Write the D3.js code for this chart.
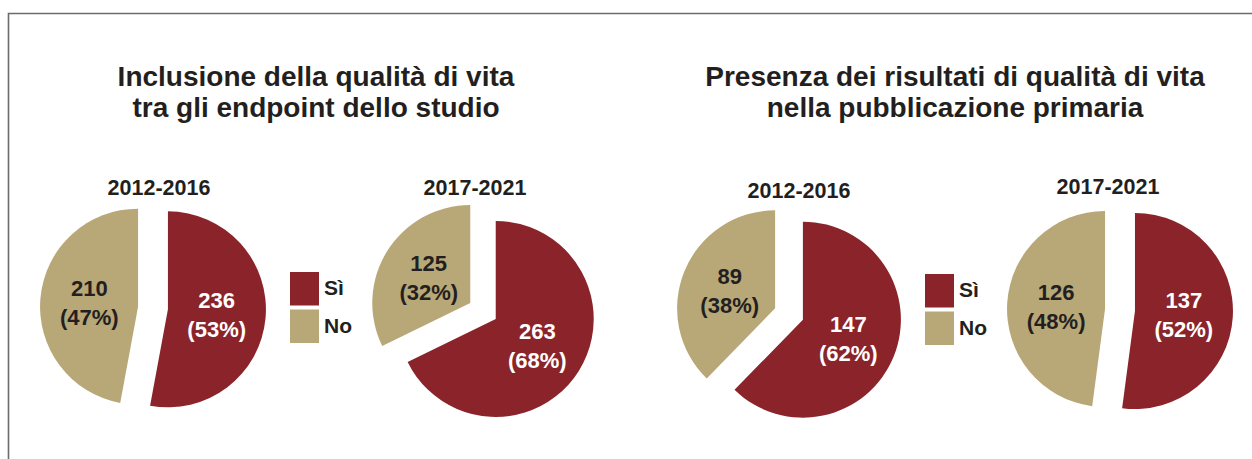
<!DOCTYPE html>
<html>
<head>
<meta charset="utf-8">
<script src="https://cdn.jsdelivr.net/npm/d3@7"></script>
<style>
  html, body { margin: 0; padding: 0; background: #fff; }
  svg { display: block; font-family: "Liberation Sans", Arial, Helvetica, sans-serif; }
</style>
</head>
<body>
<svg id="chart" width="1252" height="459"></svg>
<script>
// ---- data ----
const panelTitles = [
  ["Inclusione della qualità di vita", "tra gli endpoint dello studio"],
  ["Presenza dei risultati di qualità di vita", "nella pubblicazione primaria"]
];
const periods = ["2012-2016", "2017-2021", "2012-2016", "2017-2021"];
const categories = ["Sì", "No"];
const siValues = [236, 263, 147, 137];
const noValues = [210, 125, 89, 126];

// ---- styles / layout ----
const colors = { "Sì": "#8a242a", "No": "#b8a777" };
const labelColors = { "Sì": "#ffffff", "No": "#231f20" };
const W = 1252, H = 459;
const radius = 98, explode = 15;
const pieCenters = [[153, 308], [483, 311], [789, 314], [1120, 310]];
const periodPos = [[159, 195], [475, 195], [799, 198], [1108, 194]];
const titlePos = [[316, 86], [955, 86]];
const legendPos = [[290, 272], [925, 274]];

const svg = d3.select("#chart");

// frame
svg.append("path")
  .attr("d", `M8.5,${H} V13.5 H${W}`)
  .attr("fill", "none")
  .attr("stroke", "#6b6b6b")
  .attr("stroke-width", 1.6);

// titles
panelTitles.forEach((lines, i) => {
  const t = svg.append("text")
    .attr("text-anchor", "middle")
    .attr("font-size", 28)
    .attr("font-weight", "bold")
    .attr("fill", "#231f20");
  lines.forEach((ln, j) => {
    t.append("tspan")
      .attr("x", titlePos[i][0])
      .attr("y", titlePos[i][1] + j * 31)
      .text(ln);
  });
});

const pie = d3.pie().sort(null).value(d => d.value);
const arc = d3.arc().innerRadius(0).outerRadius(radius);
const labelArc = d3.arc().innerRadius(radius * 0.5).outerRadius(radius * 0.5);

periods.forEach((p, i) => {
  const data = [
    { cat: categories[0], value: siValues[i] },
    { cat: categories[1], value: noValues[i] }
  ];
  const total = d3.sum(data, d => d.value);
  const g = svg.append("g")
    .attr("transform", `translate(${pieCenters[i][0]},${pieCenters[i][1]})`);

  svg.append("text")
    .attr("x", periodPos[i][0])
    .attr("y", periodPos[i][1])
    .attr("text-anchor", "middle")
    .attr("font-size", 21.5)
    .attr("font-weight", "bold")
    .attr("fill", "#231f20")
    .text(p);

  const slices = g.selectAll("g.slice")
    .data(pie(data))
    .join("g")
    .attr("class", "slice")
    .attr("transform", d => {
      const a = (d.startAngle + d.endAngle) / 2;
      return `translate(${Math.sin(a) * explode},${-Math.cos(a) * explode})`;
    });

  slices.append("path")
    .attr("d", arc)
    .attr("fill", d => colors[d.data.cat]);

  slices.each(function(d) {
    const [lx, ly] = labelArc.centroid(d);
    const t = d3.select(this).append("text")
      .attr("text-anchor", "middle")
      .attr("font-size", 22)
      .attr("font-weight", "bold")
      .attr("fill", labelColors[d.data.cat]);
    t.append("tspan").attr("x", lx).attr("y", ly - 6).text(d.data.value);
    t.append("tspan").attr("x", lx).attr("y", ly + 23)
      .text(`(${Math.round(d.data.value / total * 100)}%)`);
  });
});

// legends
legendPos.forEach(([lx, ly]) => {
  categories.forEach((c, j) => {
    const y = ly + j * 37.5;
    svg.append("rect")
      .attr("x", lx).attr("y", y)
      .attr("width", 29).attr("height", 33.5)
      .attr("fill", colors[c]);
    svg.append("text")
      .attr("x", lx + 34).attr("y", y + 23)
      .attr("font-size", 21)
      .attr("font-weight", "bold")
      .attr("fill", "#231f20")
      .text(c);
  });
});
</script>
</body>
</html>
